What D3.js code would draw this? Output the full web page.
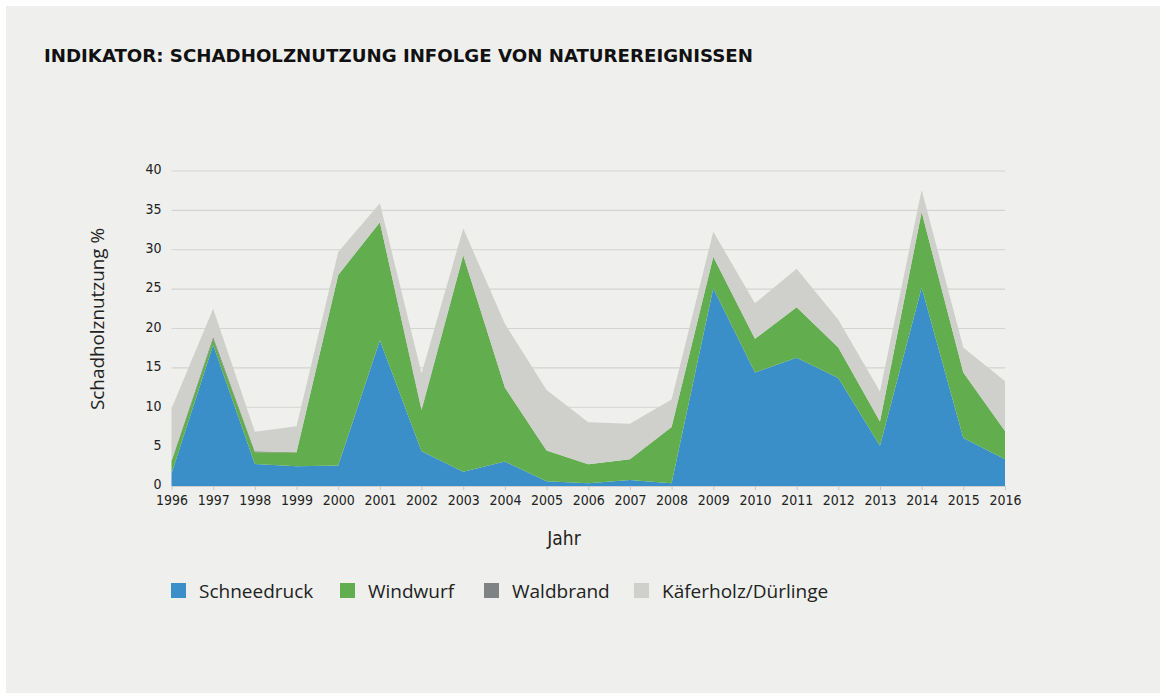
<!DOCTYPE html>
<html>
<head>
<meta charset="utf-8">
<script src="https://cdn.jsdelivr.net/npm/d3@7"></script>
<style>
  html, body { margin: 0; padding: 0; background: #ffffff; }
  svg { display: block; }
</style>
</head>
<body>
<svg id="chart" width="1166" height="699"></svg>
<script>
// Jahre und Anteile (%) der Schadholznutzung nach Ursache
const years = [1996, 1997, 1998, 1999, 2000, 2001, 2002, 2003, 2004, 2005, 2006,
               2007, 2008, 2009, 2010, 2011, 2012, 2013, 2014, 2015, 2016];
const schneedruck = [1.6, 17.9, 2.8, 2.5, 2.6, 18.5, 4.4, 1.8, 3.1, 0.6, 0.35,
                     0.75, 0.35, 25.1, 14.4, 16.3, 13.7, 5.1, 25.2, 6.1, 3.4];
const windwurf    = [1.5, 0.8, 1.5, 1.8, 24.2, 15.0, 5.2, 27.5, 9.4, 3.9, 2.4,
                     2.65, 7.15, 4.0, 4.3, 6.4, 3.9, 3.1, 9.6, 8.3, 3.6];
const waldbrand   = [0.1, 0.3, 0.1, 0.0, 0.0, 0.0, 0.1, 0.0, 0.0, 0.0, 0.0,
                     0.0, 0.0, 0.0, 0.0, 0.0, 0.0, 0.0, 0.0, 0.0, 0.0];
const kaeferholz  = [6.65, 3.5, 2.5, 3.3, 2.9, 2.4, 4.6, 3.4, 8.1, 7.7, 5.35,
                     4.5, 3.5, 3.2, 4.5, 4.9, 3.5, 3.8, 2.8, 3.2, 6.3];
const seriesNames = ["Schneedruck", "Windwurf", "Waldbrand", "Käferholz/Dürlinge"];
const yTicks = [0, 5, 10, 15, 20, 25, 30, 35, 40];

const colors = {
  "Schneedruck": "#3a8fc8",
  "Windwurf": "#62ae4f",
  "Waldbrand": "#7f8383",
  "Käferholz/Dürlinge": "#cfcfcb"
};

const rows = years.map((y, i) => ({
  year: y,
  "Schneedruck": schneedruck[i],
  "Windwurf": windwurf[i],
  "Waldbrand": waldbrand[i],
  "Käferholz/Dürlinge": kaeferholz[i]
}));

const condensed = "'DejaVu Sans Condensed', 'Liberation Sans Narrow', 'DejaVu Sans', sans-serif";
const regular = "'Open Sans', 'DejaVu Sans', sans-serif";

const svg = d3.select("#chart");

// Hintergrundfläche
svg.append("rect")
  .attr("x", 6).attr("y", 6)
  .attr("width", 1154).attr("height", 687)
  .attr("fill", "#efefed");

// Titel
svg.append("text")
  .attr("x", 44).attr("y", 62)
  .attr("font-family", condensed)
  .attr("font-weight", "bold")
  .attr("font-size", 18)
  .attr("textLength", 709)
  .attr("lengthAdjust", "spacingAndGlyphs")
  .attr("fill", "#111")
  .text("INDIKATOR: SCHADHOLZNUTZUNG INFOLGE VON NATUREREIGNISSEN");

const x = d3.scaleLinear().domain([1996, 2016]).range([171.5, 1005]);
const y = d3.scaleLinear().domain([0, 40]).range([486, 171]);

// Gitterlinien
svg.append("g")
  .selectAll("line")
  .data(yTicks.filter(d => d > 0))
  .join("line")
  .attr("x1", 171.5).attr("x2", 1005)
  .attr("y1", d => y(d)).attr("y2", d => y(d))
  .attr("stroke", "#d3d3d1")
  .attr("stroke-width", 1.2);

// Gestapelte Flächen
const layers = d3.stack().keys(seriesNames)(rows);
const area = d3.area()
  .x(d => x(d.data.year))
  .y0(d => y(d[0]))
  .y1(d => y(d[1]));

svg.append("g")
  .selectAll("path")
  .data(layers)
  .join("path")
  .attr("d", area)
  .attr("fill", d => colors[d.key]);

// Y-Achse
const yAxis = d3.axisLeft(y).tickValues(yTicks).tickSize(0).tickPadding(10);
const gy = svg.append("g").attr("transform", "translate(171.5,0)").call(yAxis);
gy.select(".domain").remove();
gy.selectAll("text")
  .attr("font-family", condensed)
  .attr("font-size", 14)
  .attr("dy", "0.2em")
  .attr("fill", "#222");

// X-Achse
const xAxis = d3.axisBottom(x).tickValues(years).tickFormat(d3.format("d"))
  .tickSize(4).tickSizeOuter(0).tickPadding(5);
const gx = svg.append("g").attr("transform", "translate(0,486)").call(xAxis);
gx.select(".domain").attr("stroke", "#cfcfcf").attr("stroke-width", 1.2);
gx.selectAll(".tick line").attr("stroke", "#c8c8c8");
gx.selectAll("text")
  .attr("font-family", condensed)
  .attr("font-size", 14)
  .attr("textLength", 32)
  .attr("lengthAdjust", "spacingAndGlyphs")
  .attr("fill", "#222");

// Achsentitel
svg.append("text")
  .attr("x", 564).attr("y", 545)
  .attr("text-anchor", "middle")
  .attr("font-family", condensed)
  .attr("font-size", 19)
  .attr("fill", "#222")
  .text("Jahr");

svg.append("text")
  .attr("transform", "translate(104,319) rotate(-90)")
  .attr("text-anchor", "middle")
  .attr("font-family", regular)
  .attr("font-size", 18)
  .attr("textLength", 182)
  .attr("lengthAdjust", "spacingAndGlyphs")
  .attr("fill", "#222")
  .text("Schadholznutzung %");

// Legende
const legendX = [171, 340, 484, 634];
const legend = svg.append("g");
seriesNames.forEach((name, i) => {
  legend.append("rect")
    .attr("x", legendX[i]).attr("y", 583)
    .attr("width", 15).attr("height", 15)
    .attr("fill", colors[name]);
  legend.append("text")
    .attr("x", legendX[i] + 28).attr("y", 598)
    .attr("font-family", regular)
    .attr("font-size", 19)
    .attr("fill", "#222")
    .text(name);
});
</script>
</body>
</html>
